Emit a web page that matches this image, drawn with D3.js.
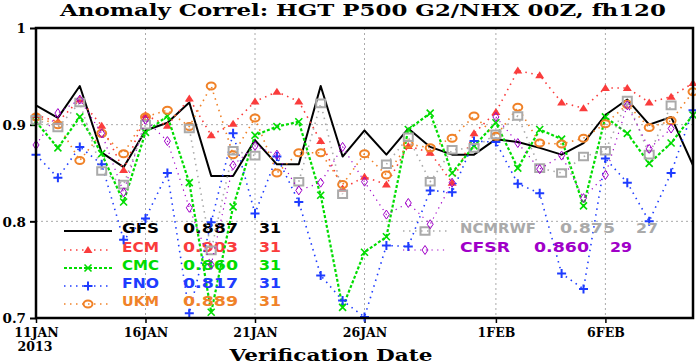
<!DOCTYPE html>
<html>
<head>
<meta charset="utf-8">
<script src="https://cdn.jsdelivr.net/npm/d3@7/dist/d3.min.js"></script>
<style>
body { margin: 0; background: #fff; }
svg { display: block; }
</style>
</head>
<body>
<svg id="chart" width="696" height="364"></svg>
<script>
// verification dates, 11 Jan - 10 Feb 2013
var dates = ["2013-01-11","2013-01-12","2013-01-13","2013-01-14","2013-01-15","2013-01-16","2013-01-17",
  "2013-01-18","2013-01-19","2013-01-20","2013-01-21","2013-01-22","2013-01-23","2013-01-24","2013-01-25",
  "2013-01-26","2013-01-27","2013-01-28","2013-01-29","2013-01-30","2013-01-31","2013-02-01","2013-02-02",
  "2013-02-03","2013-02-04","2013-02-05","2013-02-06","2013-02-07","2013-02-08","2013-02-09","2013-02-10"];

var tickDates  = ["2013-01-11","2013-01-16","2013-01-21","2013-01-26","2013-02-01","2013-02-06"];
var tickLabels = ["11JAN","16JAN","21JAN","26JAN","1FEB","6FEB"];
var yTicks = [0.7, 0.8, 0.9, 1.0];

var gfs = [0.920,0.907,0.940,0.871,0.856,0.894,0.902,0.923,0.847,0.847,0.884,0.859,0.859,0.940,0.867,0.894,
  0.869,0.896,0.877,0.869,0.869,0.885,0.882,0.876,0.869,0.881,0.910,0.926,0.900,0.908,0.858];
var ecm = [0.910,0.903,0.926,0.899,0.853,0.910,0.899,0.927,0.889,0.901,0.924,0.934,0.924,0.883,0.834,0.846,
  0.838,0.878,0.871,0.840,0.891,0.913,0.956,0.951,0.923,0.917,0.938,0.938,0.923,0.929,0.943];
var cmc = [0.903,0.876,0.908,0.870,0.820,0.892,0.909,0.840,0.706,0.815,0.889,0.898,0.903,0.827,0.711,0.768,
  0.784,0.895,0.912,0.850,0.878,0.902,0.855,0.895,0.885,0.816,0.908,0.891,0.860,0.881,0.910];
var fno = [0.869,0.845,0.877,0.859,0.781,0.803,0.850,0.705,0.799,0.891,0.808,0.867,0.820,0.744,0.718,0.701,
  0.775,0.774,0.832,0.830,0.883,0.882,0.839,0.829,0.746,0.730,0.865,0.840,0.800,0.850,0.915];
var ukm = [0.908,0.900,0.863,0.891,0.870,0.908,0.915,0.898,0.940,0.869,0.907,0.850,0.871,0.871,0.838,0.870,
  0.848,0.880,0.876,0.886,0.909,0.888,0.918,0.881,0.880,0.886,0.901,0.921,0.897,0.904,0.934];
var ncmrwf = [0.905,0.897,0.923,0.852,0.838,0.900,null,0.896,0.770,0.873,0.868,null,0.841,0.922,0.828,null,
  0.859,0.887,0.841,0.874,0.876,0.890,0.909,0.855,0.850,0.867,0.873,0.925,0.869,0.920,null];
var cfsr = [0.879,0.912,0.926,0.891,0.830,0.905,0.883,0.814,0.755,0.858,0.878,0.869,0.832,0.840,0.877,0.841,
  0.807,0.819,0.797,0.840,null,0.908,0.881,0.854,0.868,0.824,0.848,0.920,0.875,0.896,null];

var names  = ["GFS","ECM","CMC","FNO","UKM","NCMRWF","CFSR"];
var means  = ["0.887","0.903","0.860","0.817","0.889","0.875","0.860"];
var counts = ["31","31","31","31","31","27","29"];

var parse = d3.utcParse("%Y-%m-%d");
var plotL = 36, plotR = 693, plotT = 28, plotB = 318;

var x = d3.scaleUtc().domain([parse(dates[0]), parse(dates[dates.length-1])]).range([plotL, plotR]);
var y = d3.scaleLinear().domain([0.7, 1.0]).range([plotB, plotT]);

var svg = d3.select("#chart");
var serif = "'DejaVu Serif', serif";
var sans = "'DejaVu Sans', sans-serif";

// title
svg.append("text")
  .attr("x", 363).attr("y", 16)
  .attr("text-anchor", "middle")
  .attr("textLength", 606).attr("lengthAdjust", "spacingAndGlyphs")
  .style("font-family", serif).style("font-weight", "bold").style("font-size", "16.5px")
  .text("Anomaly Correl: HGT P500 G2/NHX 00Z, fh120");

// grid
svg.append("g").selectAll("line")
  .data(tickDates.slice(1))
  .enter().append("line")
  .attr("x1", function(d) { return x(parse(d)); })
  .attr("x2", function(d) { return x(parse(d)); })
  .attr("y1", plotT).attr("y2", plotB)
  .attr("stroke", "#aaa").attr("stroke-width", 1).attr("stroke-dasharray", "2,3");
svg.append("g").selectAll("line")
  .data([0.8, 0.9])
  .enter().append("line")
  .attr("x1", plotL).attr("x2", plotR)
  .attr("y1", function(d) { return y(d); })
  .attr("y2", function(d) { return y(d); })
  .attr("stroke", "#aaa").attr("stroke-width", 1).attr("stroke-dasharray", "2,3");

// axes
var xAxis = svg.append("g")
  .attr("transform", "translate(0," + plotB + ")")
  .call(d3.axisBottom(x)
    .tickValues(tickDates.map(parse))
    .tickFormat(function(d, i) { return tickLabels[i]; })
    .tickSize(5));
xAxis.select(".domain").remove();
xAxis.selectAll("line").attr("stroke", "#000").attr("stroke-width", 1.5);
xAxis.selectAll("text")
  .attr("y", 18.5).attr("dy", 0)
  .style("font-family", serif).style("font-weight", "bold").style("font-size", "12.5px")
  .attr("fill", "#000");
svg.append("text")
  .attr("x", 35).attr("y", 351).attr("text-anchor", "middle")
  .style("font-family", serif).style("font-weight", "bold").style("font-size", "12.5px")
  .text("2013");
svg.append("text")
  .attr("x", 331).attr("y", 361)
  .attr("text-anchor", "middle")
  .attr("textLength", 203).attr("lengthAdjust", "spacingAndGlyphs")
  .style("font-family", serif).style("font-weight", "bold").style("font-size", "16px")
  .text("Verification Date");

var yAxis = svg.append("g")
  .attr("transform", "translate(" + plotL + ",0)")
  .call(d3.axisLeft(y)
    .tickValues(yTicks)
    .tickFormat(function(d) { return d === 1 ? "1" : d.toFixed(1); })
    .tickSize(6));
yAxis.select(".domain").remove();
yAxis.selectAll("line").attr("stroke", "#000").attr("stroke-width", 2);
yAxis.selectAll("text")
  .attr("x", -10).attr("dy", "0.36em")
  .style("font-family", serif).style("font-weight", "bold").style("font-size", "13.5px")
  .attr("fill", "#000");

// marker shapes
function marker(g, kind, color) {
  if (kind == "tri") {
    g.append("path").attr("d", "M0,-4L4.5,3L-4.5,3Z").attr("fill", color);
  } else if (kind == "x") {
    g.append("path").attr("d", "M-3.5,-3.5L3.5,3.5M-3.5,3.5L3.5,-3.5")
      .attr("stroke", color).attr("stroke-width", 1.6).attr("fill", "none");
  } else if (kind == "plus") {
    g.append("path").attr("d", "M-4.5,0H4.5M0,-4.5V4.5")
      .attr("stroke", color).attr("stroke-width", 2).attr("fill", "none");
  } else if (kind == "circle") {
    g.append("ellipse").attr("rx", 4.5).attr("ry", 3.5)
      .attr("stroke", color).attr("stroke-width", 2).attr("fill", "none");
  } else if (kind == "square") {
    g.append("path").attr("d", "M-4.5,-3.8H4.5V3.8H-4.5Z")
      .attr("stroke", color).attr("stroke-width", 2).attr("fill", "none");
  } else if (kind == "diamond") {
    g.append("path").attr("d", "M0,-4.5L3,0L0,4.5L-3,0Z")
      .attr("stroke", color).attr("stroke-width", 1).attr("fill", "none");
  }
}

var series = [
  {values: gfs,    color: "#000000", width: 2,   dash: null,    mark: null},
  {values: ecm,    color: "#fa3c3c", width: 1.6, dash: "1.5,4.5", mark: "tri"},
  {values: cmc,    color: "#00dc00", width: 2.2, dash: "3,2",   mark: "x"},
  {values: fno,    color: "#1e3cff", width: 1.6, dash: "1.5,4.5", mark: "plus"},
  {values: ukm,    color: "#f08228", width: 1.6, dash: "1.5,4.5", mark: "circle"},
  {values: ncmrwf, color: "#aaaaaa", width: 1.6, dash: "1.5,4.5", mark: "square"},
  {values: cfsr,   color: "#a000c8", width: 1.2, dash: "1.2,4.5", mark: "diamond"}
];

var line = d3.line()
  .defined(function(d) { return d.v != null; })
  .x(function(d) { return x(d.date); })
  .y(function(d) { return y(d.v); });

// legend placement
var legendPos = [
  {x0: 64, x1: 112, tx: 122, base: 233},
  {x0: 64, x1: 112, tx: 122, base: 252},
  {x0: 64, x1: 112, tx: 122, base: 270},
  {x0: 64, x1: 112, tx: 122, base: 288},
  {x0: 64, x1: 112, tx: 122, base: 306},
  {x0: 403, x1: 447, tx: 460, base: 233},
  {x0: 403, x1: 447, tx: 460, base: 252}
];

series.forEach(function(s, k) {
  var pts = s.values.map(function(v, i) { return {date: parse(dates[i]), v: v}; });
  var g = svg.append("g");
  g.append("path")
    .datum(pts)
    .attr("d", line)
    .attr("fill", "none")
    .attr("stroke", s.color)
    .attr("stroke-width", s.width)
    .attr("stroke-dasharray", s.dash)
    .attr("stroke-linejoin", "round");
  if (s.mark) {
    g.selectAll(".mk")
      .data(pts.filter(function(d) { return d.v != null; }))
      .enter().append("g")
      .attr("class", "mk")
      .attr("transform", function(d) { return "translate(" + x(d.date) + "," + y(d.v) + ")"; })
      .each(function() { marker(d3.select(this), s.mark, s.color); });
  }

  // legend entry
  var p = legendPos[k];
  var ly = p.base - 2;
  g.append("line")
    .attr("x1", p.x0).attr("x2", p.x1).attr("y1", ly).attr("y2", ly)
    .attr("stroke", s.color).attr("stroke-width", s.width)
    .attr("stroke-dasharray", s.dash);
  if (s.mark) marker(g.append("g").attr("transform", "translate(" + ((p.x0 + p.x1) / 2) + "," + ly + ")"), s.mark, s.color);

  var nameW = names[k].length * 13;
  var vx = p.tx + nameW + 22;
  var cx = vx + 76;
  var txt = [[p.tx, names[k], nameW - 2], [vx, means[k], 55], [cx, counts[k], 22]];
  txt.forEach(function(t) {
    g.append("text")
      .attr("x", t[0]).attr("y", p.base)
      .attr("textLength", t[2]).attr("lengthAdjust", "spacingAndGlyphs")
      .attr("fill", s.color)
      .style("font-family", sans).style("font-weight", "bold").style("font-size", "14px")
      .text(t[1]);
  });
});

// frame
svg.append("rect")
  .attr("x", plotL).attr("y", plotT)
  .attr("width", plotR - plotL).attr("height", plotB - plotT)
  .attr("fill", "none").attr("stroke", "#000").attr("stroke-width", 2.5);
</script>
</body>
</html>
